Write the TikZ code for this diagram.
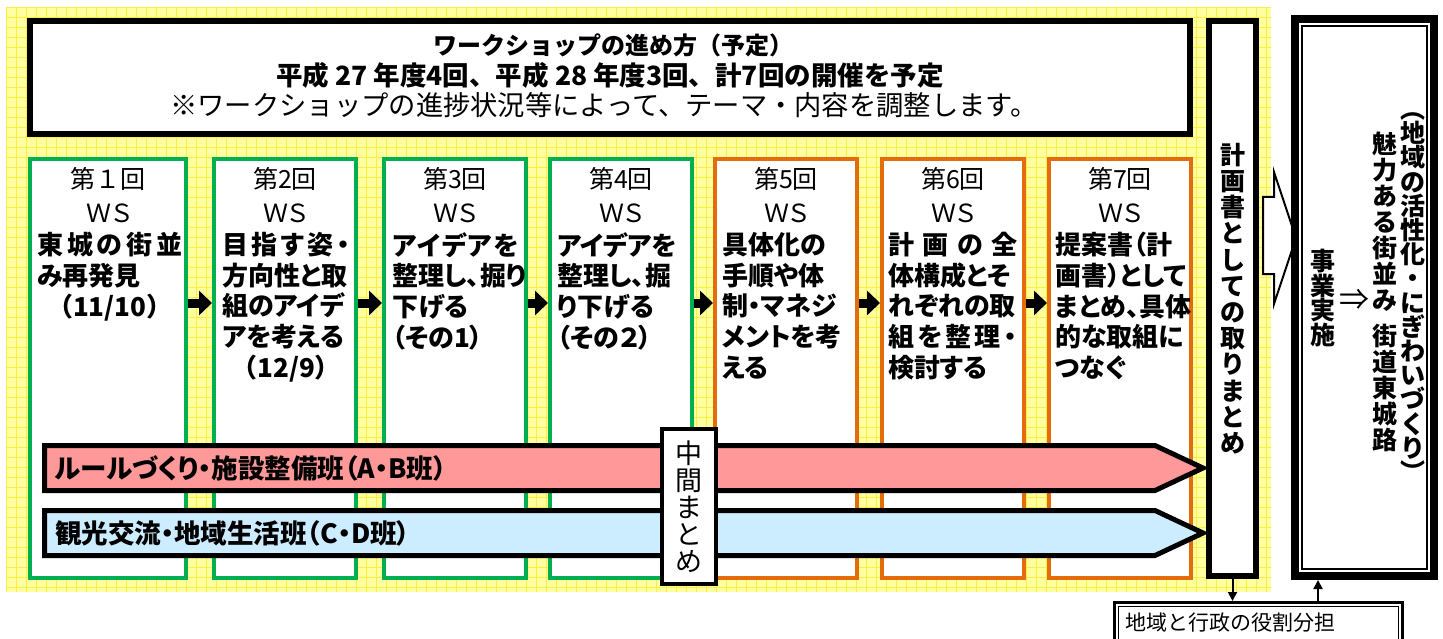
\documentclass[tikz,border=0pt]{standalone}
\usepackage{fontspec}
\setmainfont{Noto Sans CJK JP}
\newfontfamily\jp{Noto Sans CJK JP}
\newfontfamily\jpp[RawFeature=+palt]{Noto Sans CJK JP}
\usetikzlibrary{arrows.meta,calc}
\setlength\parindent{0pt}
\definecolor{ylw}{RGB}{255,255,160}
\definecolor{ygrid}{RGB}{252,238,70}
\definecolor{grn}{RGB}{0,176,80}
\definecolor{org}{RGB}{228,108,10}
\definecolor{redbar}{RGB}{255,153,153}
\definecolor{bluebar}{RGB}{204,236,255}
\newcommand\Lc[1]{\makebox[\hsize][c]{#1}}
\newcommand\Ls[1]{\makebox[\hsize][s]{#1}}
\begin{document}
\begin{tikzpicture}[x=1pt,y=-1pt,
  wsg/.style={draw=grn, line width=4pt, fill=white, minimum width=142pt, minimum height=419pt, inner sep=0pt, anchor=north west},
  wso/.style={wsg, draw=org},
  ttl/.style={font=\jp\fontsize{25}{34}\selectfont, align=center, inner sep=0pt},
  body/.style={font=\jpp\bfseries\fontsize{26}{30.7}\selectfont, align=left, inner sep=0pt, anchor=north west},
  wsarrow/.style={line width=9pt, -{Triangle[length=13pt,width=24pt]}},
  bar/.style={line width=5pt, line join=miter},
  bartext/.style={font=\jpp\bfseries\fontsize{26.5}{26.5}\selectfont, inner sep=0pt, anchor=west},
  vbold/.style={font=\jp\bfseries\fontsize{25}{26.2}\selectfont, align=center, inner sep=0pt},
  thinarrow/.style={line width=2pt, -{Triangle[length=9pt,width=9pt]}}
]
\useasboundingbox (0,0) rectangle (1443,639);
\fill[white] (0,0) rectangle (1443,639);
% yellow patterned background
\fill[ylw] (6,7) rectangle (1271,592);
\begin{scope}
\clip (6,7) rectangle (1271,592);
\foreach \i in {0,...,127} {\draw[ygrid, line width=0.8pt] (6+\i*10,7) -- (6+\i*10,592);}
\foreach \j in {0,...,59} {\draw[ygrid, line width=0.8pt] (6,7+\j*10) -- (1271,7+\j*10);}
\end{scope}

% header
\node[draw, line width=6pt, fill=white, minimum width=1160pt, minimum height=113pt, inner sep=0pt, anchor=north west] (hdr) at (27,18) {};
\node[font=\jp\bfseries\fontsize{24}{24}\selectfont, inner sep=0pt] (h1) at (613,45) {ワークショップの進め方（予定）};
\node[font=\jp\bfseries\fontsize{26.5}{26.5}\selectfont, inner sep=0pt] (h2) at (610,75) {平成 27 年度4回、平成 28 年度3回、計7回の開催を予定};
\node[font=\jp\fontsize{27.3}{27.3}\selectfont, inner sep=0pt] (h3) at (604,105) {※ワークショップの進捗状況等によって、テーマ・内容を調整します。};

% WS boxes
\node[wsg, minimum width=156pt] (b1) at (28,157) {};
\node[wsg] (b2) at (212,157) {};
\node[wsg] (b3) at (382,157) {};
\node[wsg] (b4) at (548,157) {};
\node[wso] (b5) at (713,157) {};
\node[wso] (b6) at (880,157) {};
\node[wso] (b7) at (1047,157) {};

\node[ttl] (t1) at (b1.center |- 0,195) {第１回\\{\jpp ＷＳ}};
\node[ttl] (t2) at (b2.center |- 0,195) {第2回\\{\jpp ＷＳ}};
\node[ttl] (t3) at (b3.center |- 0,195) {第3回\\{\jpp ＷＳ}};
\node[ttl] (t4) at (b4.center |- 0,195) {第4回\\{\jpp ＷＳ}};
\node[ttl] (t5) at (b5.center |- 0,195) {第5回\\{\jpp ＷＳ}};
\node[ttl] (t6) at (b6.center |- 0,195) {第6回\\{\jpp ＷＳ}};
\node[ttl] (t7) at (b7.center |- 0,195) {第7回\\{\jpp ＷＳ}};

\node[body, text width=145pt] (d1) at (37,232) {\Ls{東\hfill 城\hfill の\hfill 街\hfill 並}\\み再発見\\\Lc{\jp（11/10）}};
\node[body, text width=128pt] (d2) at (222,232) {\Ls{目\hfill 指\hfill す\hfill 姿\hfill ・}\\方向性と取\\組のアイデ\\アを考える\\\Lc{\jp（12/9）}};
\node[body, text width=126pt] (d3) at (392,232) {\Ls{ア\hfill イ\hfill デ\hfill ア\hfill を}\\整理し、掘り\\下げる\\（その1）};
\node[body, text width=128pt] (d4) at (557,232) {アイデアを\\整理し、掘\\り下げる\\（その２）};
\node[body, text width=128pt] (d5) at (722,232) {具体化の\\手順や体\\制・マネジ\\メントを考\\える};
\node[body, text width=129pt] (d6) at (888,232) {\Ls{計\hfill 画\hfill の\hfill 全}\\体構成とそ\\れぞれの取\\\Ls{組\hfill を\hfill 整\hfill 理\hfill ・}\\検討する};
\node[body, text width=130pt] (d7) at (1055,232) {提案書（計\\画書）として\\まとめ、具体\\的な取組に\\つなぐ};

% arrows between WS
\coordinate (ar) at (0,303);
\draw[wsarrow] (b1.east |- ar) -- (b2.west |- ar);
\draw[wsarrow] (b2.east |- ar) -- (b3.west |- ar);
\draw[wsarrow] (b3.east |- ar) -- (b4.west |- ar);
\draw[wsarrow] (b4.east |- ar) -- (b5.west |- ar);
\draw[wsarrow] (b5.east |- ar) -- (b6.west |- ar);
\draw[wsarrow] (b6.east |- ar) -- (b7.west |- ar);

% bars
\draw[bar, fill=redbar] (44.5,445.5) -- (1155,445.5) -- (1203,468) -- (1155,490.5) -- (44.5,490.5) -- cycle;
\draw[bar, fill=bluebar] (44.5,510.5) -- (1155,510.5) -- (1203,533) -- (1155,555.5) -- (44.5,555.5) -- cycle;
\node[bartext] (r1) at (55,468) {ルールづくり・施設整備班（A・B班）};
\node[bartext] (r2) at (55,533) {観光交流・地域生活班（C・D班）};

% interim
\node[draw, line width=4pt, fill=white, minimum width=54pt, minimum height=155pt, inner sep=0pt, anchor=north west, font=\jp\fontsize{27}{27}\selectfont, align=center] (mid) at (660,427) {中\\間\\ま\\と\\め};

% plan box
\node[draw, line width=6pt, fill=white, minimum width=47pt, minimum height=555pt, inner sep=0pt, anchor=north west, vbold] (plan) at (1206,18) {計\\画\\書\\と\\し\\て\\の\\取\\り\\ま\\と\\め};

% hollow arrow
\draw[line width=2pt, fill=white, line join=miter] (1263,197) -- (1274,197) -- (1274,172) -- (1296,238) -- (1274,304) -- (1274,274) -- (1263,274) -- cycle;

% implementation box
\node[draw, line width=8pt, fill=white, minimum width=139pt, minimum height=557pt, inner sep=0pt, anchor=north west] (impl) at (1291,15) {};
\draw[line width=2pt] ($(impl.north west)+(11,11)$) rectangle ($(impl.south east)+(-11,-11)$);
\node[vbold, font=\jp\bfseries\fontsize{25}{24.5}\selectfont] (ji) at (1323,298) {事\\業\\実\\施};
\node[font=\jp\fontsize{30}{30}\selectfont, inner sep=0pt] (ya) at (1354,300) {⇒};
\node[vbold, font=\jp\bfseries\fontsize{25}{26}\selectfont] (c1) at (1385,292) {魅\\力\\あ\\る\\街\\並\\み\\[10pt]街\\道\\東\\城\\路};
\node[vbold, font=\jp\bfseries\fontsize{25}{24.2}\selectfont] (c2) at (1413,297) {︵\\地\\域\\の\\活\\性\\化\\・\\に\\ぎ\\わ\\い\\づ\\く\\り\\︶};

% role label
\node[draw, line width=3pt, fill=white, minimum width=288pt, minimum height=50pt, inner sep=0pt, anchor=north west] (role) at (1113,601) {};
\draw[line width=1.5pt] ($(role.north west)+(5.5,5.5)$) rectangle ($(role.south east)+(-5.5,-5.5)$);
\node[font=\jp\fontsize{21}{21}\selectfont, inner sep=0pt, anchor=west] (rt) at (1125,623) {地域と行政の役割分担};

\coordinate (ux) at (1318,0);
\draw[thinarrow] (plan.south) -- (plan.south |- role.north);
\draw[thinarrow] (ux |- role.north) -- (ux |- impl.south);
\end{tikzpicture}
\end{document}
